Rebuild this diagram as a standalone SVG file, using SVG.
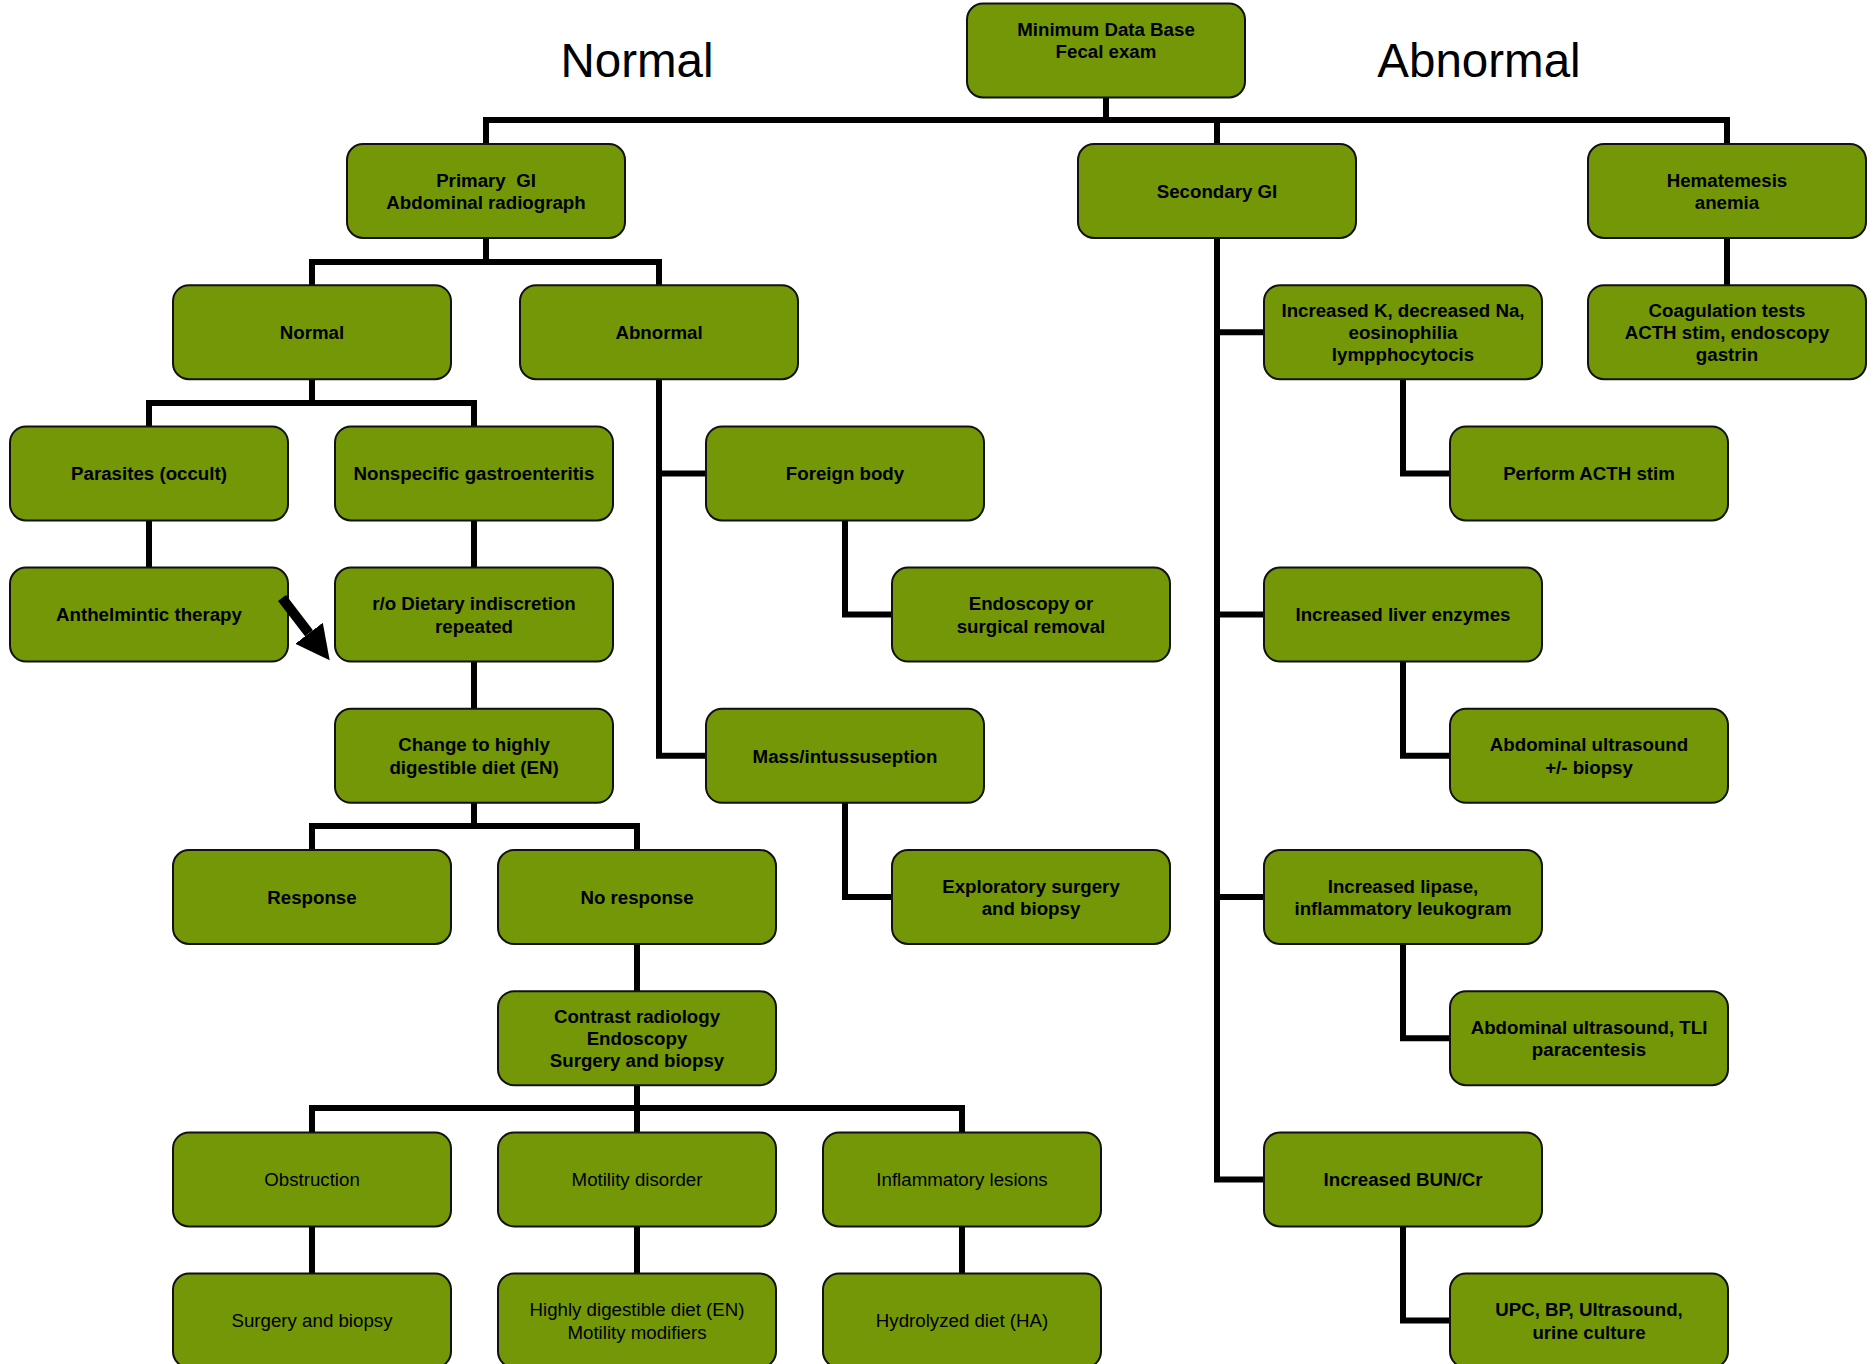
<svg xmlns="http://www.w3.org/2000/svg" width="1876" height="1364" viewBox="0 0 1876 1364">
  <defs>
    <style>
      .box { fill: #739706; stroke: #111; stroke-width: 2; }
      .lbl { font-family: "Liberation Sans", Arial, sans-serif; font-size: 18.7px; font-weight: bold; fill: #000; text-anchor: middle; }
      .reg { font-weight: normal; }
      .title { font-family: "Liberation Sans", Arial, sans-serif; font-size: 47.5px; fill: #000; text-anchor: middle; }
      .wire { fill: none; stroke: #000; stroke-width: 6; stroke-linejoin: miter; }
      .pointer { fill: none; stroke: #000; stroke-width: 10; }
    </style>
    <marker id="head" viewBox="0 0 35 35" refX="0" refY="17.35" markerWidth="35" markerHeight="35" markerUnits="userSpaceOnUse" orient="auto">
      <path d="M0,0 L34,17.35 L0,34.7 Z" fill="#000"/>
    </marker>
  </defs>

  <!-- headings -->
  <text class="title" x="637" y="77">Normal</text>
  <text class="title" x="1479" y="77">Abnormal</text>

  <!-- connectors -->
  <g id="connectors">
    <path class="wire" d="M1106,97 V120"/>
    <path class="wire" d="M486,144 V120 H1727 V144"/>
    <path class="wire" d="M1217,120 V144"/>
    <path class="wire" d="M486,238 V262"/>
    <path class="wire" d="M312,285.2 V262 H659 V285.2"/>
    <path class="wire" d="M312,379.2 V403"/>
    <path class="wire" d="M149,426.4 V403 H474 V426.4"/>
    <path class="wire" d="M149,520.4 V567.6"/>
    <path class="wire" d="M474,520.4 V567.6"/>
    <path class="wire" d="M474,661.6 V708.8"/>
    <path class="wire" d="M474,802.8 V826"/>
    <path class="wire" d="M312,850 V826 H637 V850"/>
    <path class="wire" d="M637,944 V991.2"/>
    <path class="wire" d="M637,1085.2 V1132.4"/>
    <path class="wire" d="M312,1132.4 V1108 H962 V1132.4"/>
    <path class="wire" d="M312,1226.4 V1273.6"/>
    <path class="wire" d="M637,1226.4 V1273.6"/>
    <path class="wire" d="M962,1226.4 V1273.6"/>
    <path class="wire" d="M659,379.2 V755.8 H706"/>
    <path class="wire" d="M659,473.4 H706"/>
    <path class="wire" d="M845,520.4 V614.6 H892"/>
    <path class="wire" d="M845,802.8 V897 H892"/>
    <path class="wire" d="M1217,238 V1179.4 H1264"/>
    <path class="wire" d="M1217,332.2 H1264"/>
    <path class="wire" d="M1217,614.6 H1264"/>
    <path class="wire" d="M1217,897 H1264"/>
    <path class="wire" d="M1403,379.2 V473.4 H1450"/>
    <path class="wire" d="M1403,661.6 V755.8 H1450"/>
    <path class="wire" d="M1403,944 V1038.2 H1450"/>
    <path class="wire" d="M1403,1226.4 V1320.6 H1450"/>
    <path class="wire" d="M1727,238 V285.2"/>
  </g>

  <!-- nodes -->
  <g id="root">
    <rect class="box" x="967" y="3.5" width="278" height="94" rx="16"/>
    <text class="lbl" x="1106" y="35.5">Minimum Data Base</text>
    <text class="lbl" x="1106" y="57.5">Fecal exam</text>
  </g>
  <g id="primary-gi">
    <rect class="box" x="347" y="144" width="278" height="94" rx="16"/>
    <text class="lbl" x="486" y="186.5" xml:space="preserve">Primary  GI</text>
    <text class="lbl" x="486" y="208.9">Abdominal radiograph</text>
  </g>
  <g id="secondary-gi">
    <rect class="box" x="1078" y="144" width="278" height="94" rx="16"/>
    <text class="lbl" x="1217" y="197.7">Secondary GI</text>
  </g>
  <g id="hematemesis">
    <rect class="box" x="1588" y="144" width="278" height="94" rx="16"/>
    <text class="lbl" x="1727" y="186.5">Hematemesis</text>
    <text class="lbl" x="1727" y="208.9">anemia</text>
  </g>
  <g id="normal">
    <rect class="box" x="173" y="285.2" width="278" height="94" rx="16"/>
    <text class="lbl" x="312" y="338.9">Normal</text>
  </g>
  <g id="abnormal">
    <rect class="box" x="520" y="285.2" width="278" height="94" rx="16"/>
    <text class="lbl" x="659" y="338.9">Abnormal</text>
  </g>
  <g id="electrolytes">
    <rect class="box" x="1264" y="285.2" width="278" height="94" rx="16"/>
    <text class="lbl" x="1403" y="316.5">Increased K, decreased Na,</text>
    <text class="lbl" x="1403" y="338.9">eosinophilia</text>
    <text class="lbl" x="1403" y="361.3">lympphocytocis</text>
  </g>
  <g id="coagulation">
    <rect class="box" x="1588" y="285.2" width="278" height="94" rx="16"/>
    <text class="lbl" x="1727" y="316.5">Coagulation tests</text>
    <text class="lbl" x="1727" y="338.9">ACTH stim, endoscopy</text>
    <text class="lbl" x="1727" y="361.3">gastrin</text>
  </g>
  <g id="parasites">
    <rect class="box" x="10" y="426.4" width="278" height="94" rx="16"/>
    <text class="lbl" x="149" y="480.1">Parasites (occult)</text>
  </g>
  <g id="nonspecific">
    <rect class="box" x="335" y="426.4" width="278" height="94" rx="16"/>
    <text class="lbl" x="474" y="480.1">Nonspecific gastroenteritis</text>
  </g>
  <g id="foreign-body">
    <rect class="box" x="706" y="426.4" width="278" height="94" rx="16"/>
    <text class="lbl" x="845" y="480.1">Foreign body</text>
  </g>
  <g id="acth-stim">
    <rect class="box" x="1450" y="426.4" width="278" height="94" rx="16"/>
    <text class="lbl" x="1589" y="480.1">Perform ACTH stim</text>
  </g>
  <g id="anthelmintic">
    <rect class="box" x="10" y="567.6" width="278" height="94" rx="16"/>
    <text class="lbl" x="149" y="621.3">Anthelmintic therapy</text>
  </g>
  <g id="dietary">
    <rect class="box" x="335" y="567.6" width="278" height="94" rx="16"/>
    <text class="lbl" x="474" y="610.1">r/o Dietary indiscretion</text>
    <text class="lbl" x="474" y="632.5">repeated</text>
  </g>
  <g id="endoscopy-removal">
    <rect class="box" x="892" y="567.6" width="278" height="94" rx="16"/>
    <text class="lbl" x="1031" y="610.1">Endoscopy or</text>
    <text class="lbl" x="1031" y="632.5">surgical removal</text>
  </g>
  <g id="liver">
    <rect class="box" x="1264" y="567.6" width="278" height="94" rx="16"/>
    <text class="lbl" x="1403" y="621.3">Increased liver enzymes</text>
  </g>
  <g id="diet-change">
    <rect class="box" x="335" y="708.8" width="278" height="94" rx="16"/>
    <text class="lbl" x="474" y="751.3">Change to highly</text>
    <text class="lbl" x="474" y="773.7">digestible diet (EN)</text>
  </g>
  <g id="mass">
    <rect class="box" x="706" y="708.8" width="278" height="94" rx="16"/>
    <text class="lbl" x="845" y="762.5">Mass/intussuseption</text>
  </g>
  <g id="ultrasound-biopsy">
    <rect class="box" x="1450" y="708.8" width="278" height="94" rx="16"/>
    <text class="lbl" x="1589" y="751.3">Abdominal ultrasound</text>
    <text class="lbl" x="1589" y="773.7">+/- biopsy</text>
  </g>
  <g id="response">
    <rect class="box" x="173" y="850" width="278" height="94" rx="16"/>
    <text class="lbl" x="312" y="903.7">Response</text>
  </g>
  <g id="no-response">
    <rect class="box" x="498" y="850" width="278" height="94" rx="16"/>
    <text class="lbl" x="637" y="903.7">No response</text>
  </g>
  <g id="exploratory">
    <rect class="box" x="892" y="850" width="278" height="94" rx="16"/>
    <text class="lbl" x="1031" y="892.5">Exploratory surgery</text>
    <text class="lbl" x="1031" y="914.9">and biopsy</text>
  </g>
  <g id="lipase">
    <rect class="box" x="1264" y="850" width="278" height="94" rx="16"/>
    <text class="lbl" x="1403" y="892.5">Increased lipase,</text>
    <text class="lbl" x="1403" y="914.9">inflammatory leukogram</text>
  </g>
  <g id="contrast">
    <rect class="box" x="498" y="991.2" width="278" height="94" rx="16"/>
    <text class="lbl" x="637" y="1022.5">Contrast radiology</text>
    <text class="lbl" x="637" y="1044.9">Endoscopy</text>
    <text class="lbl" x="637" y="1067.3">Surgery and biopsy</text>
  </g>
  <g id="ultrasound-tli">
    <rect class="box" x="1450" y="991.2" width="278" height="94" rx="16"/>
    <text class="lbl" x="1589" y="1033.7">Abdominal ultrasound, TLI</text>
    <text class="lbl" x="1589" y="1056.1">paracentesis</text>
  </g>
  <g id="obstruction">
    <rect class="box" x="173" y="1132.4" width="278" height="94" rx="16"/>
    <text class="lbl reg" x="312" y="1186.1">Obstruction</text>
  </g>
  <g id="motility">
    <rect class="box" x="498" y="1132.4" width="278" height="94" rx="16"/>
    <text class="lbl reg" x="637" y="1186.1">Motility disorder</text>
  </g>
  <g id="inflammatory">
    <rect class="box" x="823" y="1132.4" width="278" height="94" rx="16"/>
    <text class="lbl reg" x="962" y="1186.1">Inflammatory lesions</text>
  </g>
  <g id="bun">
    <rect class="box" x="1264" y="1132.4" width="278" height="94" rx="16"/>
    <text class="lbl" x="1403" y="1186.1">Increased BUN/Cr</text>
  </g>
  <g id="surgery">
    <rect class="box" x="173" y="1273.6" width="278" height="94" rx="16"/>
    <text class="lbl reg" x="312" y="1327.3">Surgery and biopsy</text>
  </g>
  <g id="digestible">
    <rect class="box" x="498" y="1273.6" width="278" height="94" rx="16"/>
    <text class="lbl reg" x="637" y="1316.1">Highly digestible diet (EN)</text>
    <text class="lbl reg" x="637" y="1338.5">Motility modifiers</text>
  </g>
  <g id="hydrolyzed">
    <rect class="box" x="823" y="1273.6" width="278" height="94" rx="16"/>
    <text class="lbl reg" x="962" y="1327.3">Hydrolyzed diet (HA)</text>
  </g>
  <g id="urine">
    <rect class="box" x="1450" y="1273.6" width="278" height="94" rx="16"/>
    <text class="lbl" x="1589" y="1316.1">UPC, BP, Ultrasound,</text>
    <text class="lbl" x="1589" y="1338.5">urine culture</text>
  </g>

  <!-- block arrow from the anthelmintic step over to the dietary step, drawn on top of the boxes -->
  <g id="pointer">
    <path class="pointer" d="M282,598 L309,633.3" marker-end="url(#head)"/>
  </g>
</svg>
